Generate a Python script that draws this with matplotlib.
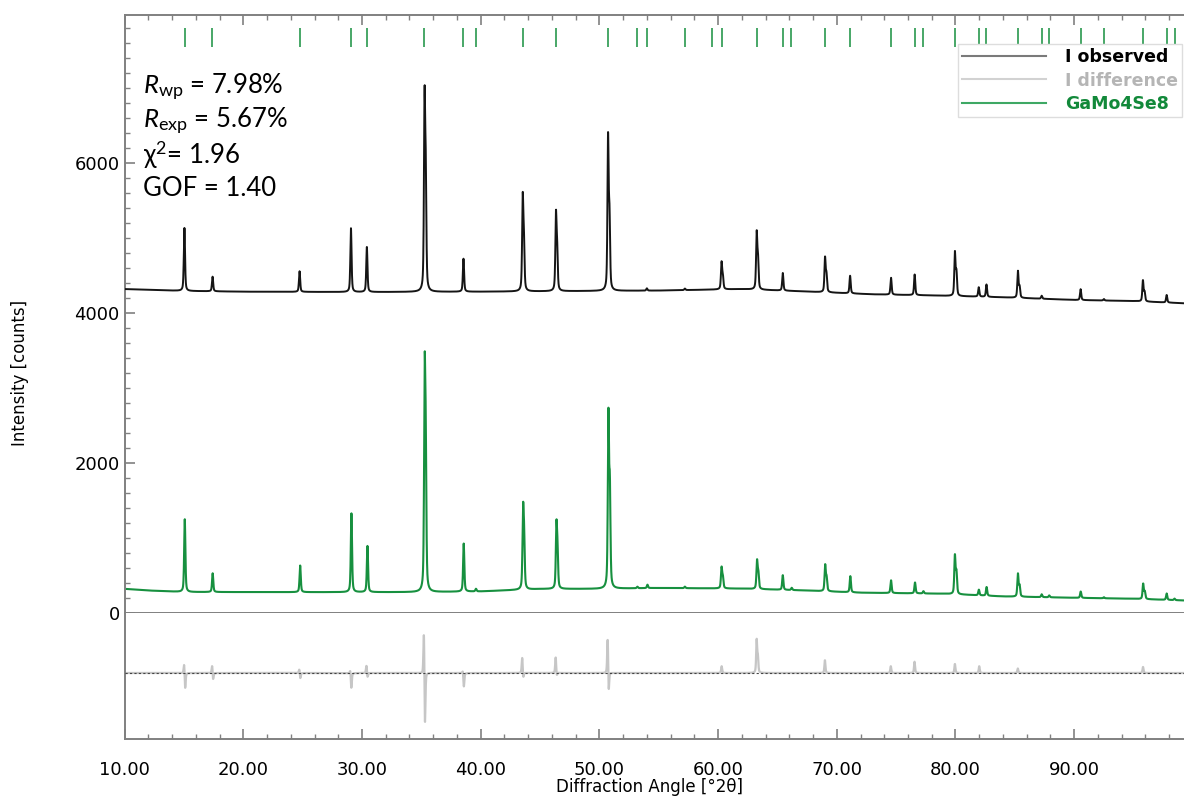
import numpy as np
import matplotlib
matplotlib.use('Agg')
from matplotlib import pyplot as plt
from matplotlib.lines import Line2D
from matplotlib.ticker import MultipleLocator, FormatStrFormatter

# Refinement statistics
stats = [r"$R_{\mathrm{wp}}$ = 7.98%", r"$R_{\mathrm{exp}}$ = 5.67%", r"χ$^{2}$= 1.96", "GOF = 1.40"]

# Observed pattern: background + peaks (counts above background)
obs_bg_x = [10, 15, 20, 30, 40, 50, 55, 62, 67, 73, 78, 84, 90, 95, 99.3]
obs_bg_y = [4320, 4295, 4285, 4280, 4285, 4295, 4300, 4320, 4290, 4250, 4235, 4210, 4175, 4160, 4130]
obs_pos = [15.04, 17.41, 24.74, 29.07, 30.41, 35.27, 35.37, 38.55, 43.54, 43.64, 46.34, 46.44,
           50.73, 50.85, 54.0, 57.2, 60.29, 60.40, 63.25, 63.36, 65.45, 69.01, 69.13, 71.12,
           74.57, 76.56, 79.95, 80.08, 81.96, 82.61, 85.26, 85.40, 87.26, 90.54, 92.5,
           95.79, 95.93, 97.79]
obs_amp = [840, 195, 275, 850, 600, 2450, 1400, 440, 1200, 600, 980, 500,
           2000, 900, 30, 20, 350, 160, 730, 380, 235, 450, 220, 235,
           225, 275, 570, 300, 125, 165, 350, 140, 40, 145, 20,
           275, 120, 100]

# Calculated pattern (GaMo4Se8)
calc_bg_x = [10, 12, 15, 25, 35, 40, 45, 50, 55, 62, 67, 72, 79, 84, 90, 95, 99.3]
calc_bg_y = [322, 300, 280, 278, 278, 288, 320, 322, 334, 325, 302, 271, 257, 221, 203, 190, 167]
calc_pos = [15.07, 17.42, 24.79, 29.11, 30.46, 35.28, 35.37, 38.57, 39.6, 43.57, 43.66,
            46.38, 46.47, 50.76, 50.88, 53.2, 54.05, 57.2, 60.29, 60.40, 63.28, 63.39,
            65.45, 66.2, 69.02, 69.14, 71.14, 74.57, 76.59, 77.3, 79.95, 80.08, 81.97,
            82.62, 85.26, 85.40, 87.26, 87.9, 90.55, 92.5, 95.81, 95.95, 97.79, 98.45]
calc_amp = [970, 250, 355, 1050, 615, 2720, 1700, 640, 35, 1000, 600,
            800, 450, 2250, 1250, 20, 45, 20, 270, 140, 365, 200,
            195, 30, 340, 170, 215, 170, 145, 30, 505, 280, 75,
            115, 300, 140, 38, 25, 85, 14, 200, 95, 85, 20]

# Difference curve (obs - calc), shown in lower panel
diff_pos = [15.02, 15.10, 17.38, 17.45, 24.72, 24.80, 29.02, 29.10, 30.38, 30.46,
            35.22, 35.30, 38.50, 38.58, 43.50, 43.58, 46.32, 46.40, 50.70, 50.78,
            60.3, 63.25, 63.35, 69.0, 74.55, 76.55, 79.95, 82.0, 85.25, 95.8]
diff_amp = [150, -230, 120, -110, 60, -80, 60, -210, 110, -70,
            660, -790, 50, -190, 220, -90, 220, -60, 510, -310,
            90, 430, 200, 170, 90, 150, 120, 90, 60, 80]

# Reflection positions (tick marks)
refl_pos = [15.1, 17.35, 24.76, 29.05, 30.39, 35.26, 38.48, 39.58, 43.56, 46.35, 50.73,
            53.19, 54.0, 57.22, 59.49, 60.29, 63.3, 65.45, 66.17, 69.04, 71.1, 74.57,
            76.59, 77.28, 79.97, 81.98, 82.61, 85.25, 87.26, 87.9, 90.55, 92.51,
            95.78, 97.79, 98.45]

GREEN = '#17903f'
SPINE = '#808080'


def profile(x, bg_x, bg_y, pos, amp, fwhm=0.12):
    y = np.interp(x, bg_x, bg_y)
    for p, a in zip(pos, amp):
        d = (x - p) / (fwhm / 2)
        y = y + a * (0.5 * np.exp(-np.log(2) * d ** 2) + 0.5 / (1 + d ** 2))
    return y


x = np.arange(10, 99.3, 0.01)
y_obs = profile(x, obs_bg_x, obs_bg_y, obs_pos, obs_amp)
y_calc = profile(x, calc_bg_x, calc_bg_y, calc_pos, calc_amp)
y_diff = profile(x, [10, 99.3], [0, 0], diff_pos, diff_amp, fwhm=0.1)

plt.rcParams['mathtext.fontset'] = 'custom'
plt.rcParams['mathtext.rm'] = 'Lato'
plt.rcParams['mathtext.it'] = 'Lato:italic'

W, H = 1184, 798
fig = plt.figure(figsize=(W / 100, H / 100), dpi=100)
left = 124.6 / W
ax = fig.add_axes([left, 1 - 613 / H, 1 - left, (613 - 15) / H])
axd = fig.add_axes([left, 1 - 739 / H, 1 - left, (739 - 613) / H], sharex=ax)

XMAX = 10 + (W - 124.6) / 11.87

# ---- main panel ----
ax.plot(x, y_obs, color='#151515', lw=1.4, zorder=3)
ax.plot(x, y_calc, color=GREEN, lw=1.5, zorder=2)
ax.vlines(refl_pos, 7545, 7800, color=GREEN, lw=1.3, alpha=0.85)
ax.set_xlim(10, XMAX)
ax.set_ylim(0, 7975)
ax.yaxis.set_major_locator(MultipleLocator(2000))
ax.yaxis.set_minor_locator(MultipleLocator(200))
ax.xaxis.set_major_locator(MultipleLocator(10))
ax.xaxis.set_minor_locator(MultipleLocator(2))
ax.tick_params(axis='y', which='both', direction='in', left=True, right=False,
               colors=SPINE, labelcolor='black', labelsize=13)
ax.tick_params(axis='x', which='both', direction='in', top=True, bottom=False,
               labelbottom=False, colors=SPINE)
ax.tick_params(which='major', length=7, width=1.2)
ax.tick_params(which='minor', length=3.5, width=1.0)
for s in ['left', 'top', 'bottom']:
    ax.spines[s].set_color(SPINE)
    ax.spines[s].set_linewidth(1.4)
ax.spines['right'].set_visible(False)

for i, t in enumerate(stats):
    fig.text(143 / W, 1 - [87, 121, 155, 188][i] / H, t, fontsize=18.5,
             family=['Lato', 'DejaVu Sans'], va='center', ha='left')

handles = [Line2D([], [], color='#7a7a7a', lw=1.5),
           Line2D([], [], color='#d2d2d2', lw=1.5),
           Line2D([], [], color='#3ea864', lw=1.5)]
leg = ax.legend(handles, ['I observed', 'I difference', 'GaMo4Se8'],
                loc='upper right', bbox_to_anchor=(1182 / W, 1 - 44 / H),
                bbox_transform=fig.transFigure, fontsize=12.5, frameon=True,
                fancybox=False, framealpha=1, edgecolor='#dddddd',
                handlelength=4.8, handletextpad=1.1, labelspacing=0.3,
                borderpad=0.25, borderaxespad=0)
for txt, c in zip(leg.get_texts(), ['black', '#b5b5b5', '#12893a']):
    txt.set_color(c)
    txt.set_fontweight('semibold')

# ---- difference panel ----
axd.plot(x, y_diff, color='#c6c6c6', lw=1.6, zorder=2)
axd.axhline(0, color='#444444', lw=0.8, ls=(0, (2, 2)), zorder=3)
axd.set_ylim(-880, 800)
axd.set_yticks([])
axd.xaxis.set_major_formatter(FormatStrFormatter('%.2f'))
axd.tick_params(axis='x', which='both', direction='in', top=False, bottom=True,
                colors=SPINE, labelcolor='black', labelsize=13, pad=16)
axd.tick_params(which='major', length=7, width=1.2)
axd.tick_params(which='minor', length=3.5, width=1.0)
for s in ['left', 'bottom']:
    axd.spines[s].set_color(SPINE)
    axd.spines[s].set_linewidth(1.4)
axd.spines['top'].set_visible(False)
axd.spines['right'].set_visible(False)
axd.set_xlim(10, XMAX)

fig.text(20 / W, 1 - 373 / H, 'Intensity [counts]', rotation=90, ha='center',
         va='center', fontsize=12)
fig.text(650 / W, 2 / H, 'Diffraction Angle [°2θ]', ha='center',
         va='bottom', fontsize=12)

fig.savefig('out.png', dpi=100)
